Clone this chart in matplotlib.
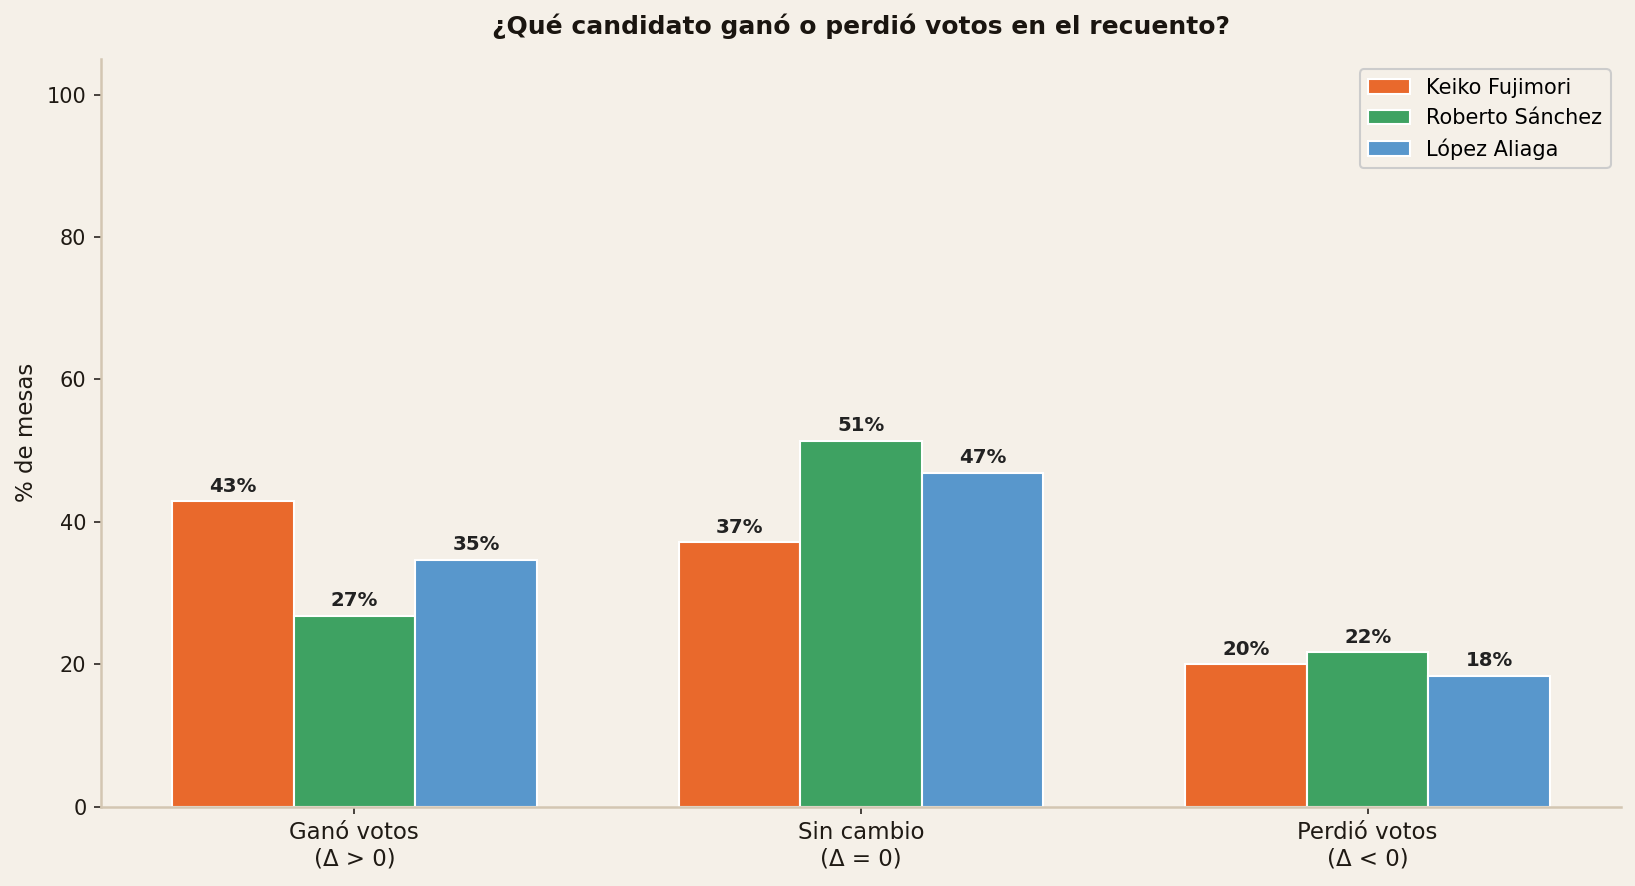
import numpy as np
import matplotlib.pyplot as plt

categories = ["Ganó votos\n(Δ > 0)", "Sin cambio\n(Δ = 0)", "Perdió votos\n(Δ < 0)"]
candidates = ["Keiko Fujimori", "Roberto Sánchez", "López Aliaga"]
keiko = [42.9, 37.1, 20.0]
sanchez = [26.8, 51.4, 21.7]
lopez = [34.7, 46.9, 18.4]
colors = ["#E9692C", "#3EA262", "#5897CC"]

bg = "#F5F0E8"
fig = plt.figure(figsize=(10.9, 5.907), dpi=150, facecolor=bg)
ax = fig.add_axes([101/1635, 1 - 806.7/886, (1621-101)/1635, (806.7-59)/886])
ax.set_facecolor(bg)

x = np.arange(len(categories))
w = 0.24
series = [keiko, sanchez, lopez]
for i, (name, vals) in enumerate(zip(candidates, series)):
    bars = ax.bar(x + (i - 1) * w, vals, w, color=colors[i], edgecolor="white",
                  linewidth=1, label=name)
    for b, v in zip(bars, vals):
        ax.text(b.get_x() + b.get_width() / 2, v + 0.8, "{:.0f}%".format(v),
                ha="center", va="bottom", fontsize=9.5, fontweight="bold", color="#222222")

ax.set_xlim(-0.5, 2.5)
ax.set_ylim(0, 105)
ax.set_xticks(x)
ax.set_xticklabels(categories, fontsize=11, color="#1f1a14")
ax.set_yticks([0, 20, 40, 60, 80, 100])
ax.tick_params(axis="y", labelsize=10, labelcolor="#1f1a14", color="#2a2520")
ax.tick_params(axis="x", color="#2a2520")
ax.set_ylabel("% de mesas", fontsize=11, color="#1f1a14", labelpad=4)
ax.set_title("¿Qué candidato ganó o perdió votos en el recuento?", fontsize=12,
             fontweight="bold", color="#1a1510", pad=12)

for s in ["top", "right"]:
    ax.spines[s].set_visible(False)
for s in ["left", "bottom"]:
    ax.spines[s].set_color("#D3C6B2")
    ax.spines[s].set_linewidth(1.2)

leg = ax.legend(loc="upper right", fontsize=10, facecolor=bg, edgecolor="#CCCCCC",
                framealpha=1)

fig.savefig("out.png", dpi=150, facecolor=bg)
